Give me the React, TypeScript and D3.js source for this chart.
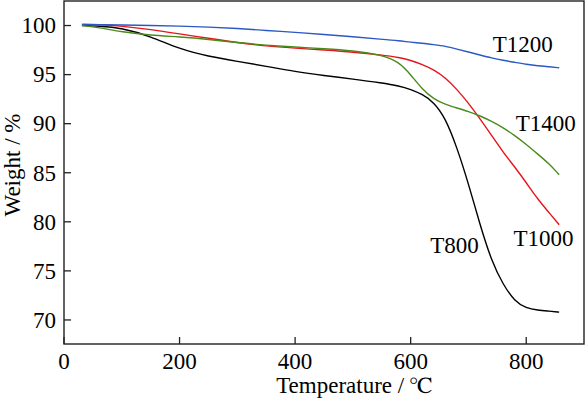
import * as d3 from "d3"

// temperature sample points (℃) shared by every curve
const temps = [31, 60, 100, 150, 200, 250, 300, 350, 400, 450, 500, 550, 580, 600, 620, 640, 660, 680, 700, 720, 740, 760, 780, 800, 820, 840, 857]

// weight (%)
const t800 = [100.0, 99.95, 99.75, 98.9, 97.6, 96.85, 96.35, 95.85, 95.3, 94.9, 94.55, 94.15, 93.85, 93.5, 93.0, 92.2, 90.6, 87.6, 83.9, 79.7, 76.0, 73.6, 71.9, 71.2, 71.0, 70.9, 70.8]
const t1000 = [100.1, 100.1, 99.95, 99.6, 99.15, 98.7, 98.25, 97.9, 97.7, 97.5, 97.3, 97.0, 96.75, 96.45, 96.05, 95.5, 94.7, 93.5, 92.1, 90.5, 88.8, 87.1, 85.6, 84.0, 82.3, 80.9, 79.7]
const t1200 = [100.1, 100.1, 100.05, 100.0, 99.95, 99.85, 99.7, 99.5, 99.3, 99.1, 98.85, 98.6, 98.45, 98.3, 98.2, 98.05, 97.9, 97.6, 97.3, 97.0, 96.7, 96.45, 96.25, 96.05, 95.9, 95.8, 95.7]
const t1400 = [100.0, 99.8, 99.35, 99.0, 98.85, 98.6, 98.25, 98.0, 97.8, 97.65, 97.45, 97.0, 96.3, 95.0, 93.5, 92.5, 91.95, 91.6, 91.25, 90.8, 90.25, 89.6, 88.8, 87.9, 86.9, 85.9, 84.8]

const seriesNames = ["T800", "T1000", "T1200", "T1400"]
const seriesColors = ["#000000", "#e8141c", "#2b58c4", "#4a8a1c"]
const seriesValues = [t800, t1000, t1200, t1400]

const xTicks = [0, 200, 400, 600, 800]
const yTicks = [70, 75, 80, 85, 90, 95, 100]

// label anchors in data units: [temp, weight]
const labelPos: [number, number][] = [[634, 76.8], [778, 77.5], [742, 97.3], [782, 89.3]]

const FONT = "Liberation Serif"
const FS = "23px"

const left = 64, right = 584, top = 1, bottom = 344

export default function App() {
  const x = d3.scaleLinear().domain([0, 900]).range([left, right])
  const y = d3.scaleLinear().domain([67.55, 102.5]).range([bottom, top])

  const line = d3.line<[number, number]>()
    .x((d) => x(d[0]))
    .y((d) => y(d[1]))
    .curve(d3.curveBasis)

  const txt = { fontFamily: FONT, fontSize: FS }

  return (
    <svg
      width={586}
      height={399}
      style={{ position: "absolute", left: 0, top: 0, background: "#fff" }}
    >
      {seriesValues.map((vals, i) => (
        <path
          key={seriesNames[i]}
          d={line(temps.map((t, j) => [t, vals[j]] as [number, number])) || ""}
          fill="none"
          stroke={seriesColors[i]}
          strokeWidth={1.4}
        />
      ))}

      {/* frame */}
      <rect x={left} y={top} width={right - left} height={bottom - top} fill="none" stroke="#222" strokeWidth={1.4} />

      {/* x ticks, pointing inward */}
      {xTicks.map((t) => (
        <g key={"x" + t}>
          <line x1={x(t)} x2={x(t)} y1={bottom} y2={bottom - 7} stroke="#222" strokeWidth={1.3} />
          <text x={x(t)} y={369} textAnchor="middle" style={txt}>{t}</text>
        </g>
      ))}

      {/* y ticks */}
      {yTicks.map((t) => (
        <g key={"y" + t}>
          <line x1={left} x2={left + 7} y1={y(t)} y2={y(t)} stroke="#222" strokeWidth={1.3} />
          <text x={56} y={y(t)} dy="0.34em" textAnchor="end" style={txt}>{t}</text>
        </g>
      ))}

      {/* axis titles */}
      <text x={354} y={393} textAnchor="middle" style={txt}>
        Temperature / <tspan style={{ fontFamily: "FreeSerif" }}>℃</tspan>
      </text>
      <text transform="translate(20,165) rotate(-90)" textAnchor="middle" style={txt}>Weight / %</text>

      {/* curve labels */}
      {seriesNames.map((name, i) => (
        <text key={"l" + name} x={x(labelPos[i][0])} y={y(labelPos[i][1])} style={txt}>{name}</text>
      ))}
    </svg>
  )
}
